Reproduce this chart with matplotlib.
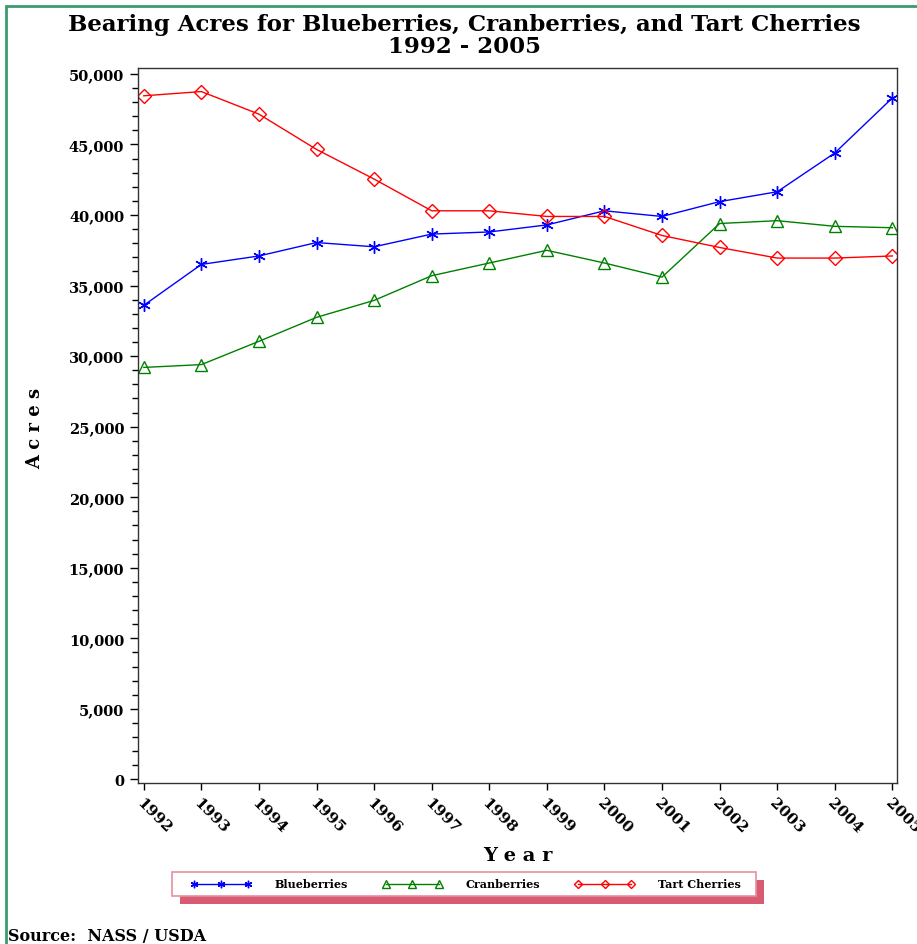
import numpy as np
import matplotlib
matplotlib.use("Agg")
import matplotlib.pyplot as plt
from matplotlib.patches import Rectangle
from matplotlib.ticker import MultipleLocator, FuncFormatter

plt.rcParams['font.family'] = ['DejaVu Serif']
plt.rcParams['font.weight'] = 'bold'

years = [1992, 1993, 1994, 1995, 1996, 1997, 1998,
         1999, 2000, 2001, 2002, 2003, 2004, 2005]
blueberries = [33600, 36500, 37100, 38050, 37750, 38650, 38800,
               39300, 40300, 39900, 40950, 41650, 44400, 48300]
cranberries = [29200, 29400, 31050, 32750, 33950, 35700, 36600,
               37500, 36600, 35600, 39400, 39600, 39200, 39100]
tart_cherries = [48450, 48750, 47150, 44650, 42550, 40300, 40300,
                 39900, 39900, 38550, 37700, 36950, 36950, 37100]

W, H = 917, 945
fig = plt.figure(figsize=(W / 100, H / 100), dpi=100)

def fx(px):
    return px / W

def fy(py):
    return 1 - py / H

# green page border
fig.patches.append(Rectangle((fx(6), fy(950)), fx(920), fy(7) - fy(950),
                             transform=fig.transFigure, fill=False,
                             edgecolor='#3c9b6c', linewidth=2))

ax = fig.add_axes([fx(138), fy(784), fx(897) - fx(138), fy(69) - fy(784)])

ax.plot(years, blueberries, color='#0000ff', lw=1, marker=(6, 2, 0),
        ms=9, mew=1, label='Blueberries')
ax.plot(years, cranberries, color='#008000', lw=1, marker='^', ms=9,
        mfc='none', mew=1, label='Cranberries')
ax.plot(years, tart_cherries, color='#ff0000', lw=1, marker='D', ms=7,
        mfc='none', mew=1, label='Tart Cherries')

ax.set_xlim(1991.9, 2005.08)
ax.set_ylim(-250, 50420)
ax.set_xticks(years)
ax.set_xticklabels([str(y) for y in years], rotation=-45, ha='left',
                   va='top', rotation_mode='anchor', fontsize=11,
                   fontweight='bold')
ax.yaxis.set_major_locator(MultipleLocator(5000))
ax.yaxis.set_minor_locator(MultipleLocator(1000))
ax.yaxis.set_major_formatter(FuncFormatter(lambda v, p: f'{int(v):,}'))
for lab in ax.get_yticklabels():
    lab.set_fontsize(10.5)
    lab.set_fontweight('bold')
ax.tick_params(axis='y', which='major', length=6, width=1, pad=4)
ax.tick_params(axis='y', which='minor', length=4, width=1)
ax.tick_params(axis='x', length=5, width=1, pad=4)
for s in ax.spines.values():
    s.set_color('#333333')
    s.set_linewidth(1)

fig.text(fx(464), fy(25), 'Bearing Acres for Blueberries, Cranberries, and Tart Cherries',
         ha='center', va='center', fontsize=16.5, fontweight='bold')
fig.text(fx(464), fy(47), '1992 - 2005', ha='center', va='center',
         fontsize=16.5, fontweight='bold')
fig.text(fx(35), fy(428), 'A c r e s', rotation=90, ha='center', va='center',
         fontsize=13, fontweight='bold')
fig.text(fx(518), fy(856), 'Y e a r', ha='center', va='center',
         fontsize=14, fontweight='bold')
fig.text(fx(8), fy(937), 'Source:  NASS / USDA', ha='left', va='center',
         fontsize=11.5, fontweight='bold')

# legend box with offset shadow
fig.patches.append(Rectangle((fx(180), fy(905)), fx(584), fy(873) - fy(897),
                             transform=fig.transFigure, facecolor='#d95b72',
                             edgecolor='none'))
fig.patches.append(Rectangle((fx(172), fy(897)), fx(584), fy(873) - fy(897),
                             transform=fig.transFigure, facecolor='white',
                             edgecolor='#e58fa0', linewidth=1.2))
handles, labels = ax.get_legend_handles_labels()
fig.legend(handles, labels, loc='center', bbox_to_anchor=(fx(466), fy(885)),
           ncol=3, frameon=False, numpoints=3, markerscale=0.6,
           handlelength=5.4, handletextpad=2.1, columnspacing=3.1,
           prop={'family': 'DejaVu Serif', 'weight': 'bold', 'size': 8})

fig.savefig('out.png', dpi=100)
